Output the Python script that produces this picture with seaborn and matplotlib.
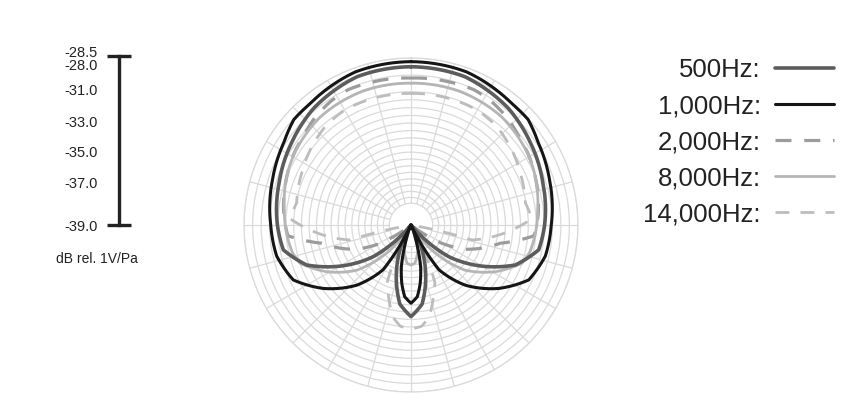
import numpy as np
import matplotlib
matplotlib.use("Agg")
import matplotlib.pyplot as plt
import seaborn as sns
from matplotlib.transforms import ScaledTranslation

# Polar response, one half only (0 deg = front), mirrored for the other side.
# Angles in degrees, levels in dB rel. 1V/Pa (centre of the plot = -39 dB)
ang_500 = [0, 20, 40, 55, 72, 90, 101, 111, 120, 130, 136, 140, 150, 158, 166, 172, 180]
db_500 = [-29.05, -29.08, -29.45, -29.87, -30.29, -30.60, -30.82, -31.98, -33.82, -35.90,
          -37.70, -39.0, -38.48, -36.90, -35.22, -33.98, -33.24]

ang_1000 = [0, 20, 40, 48, 57, 72, 90, 103, 115, 126, 138, 148, 151, 153, 155,
            161, 164, 167, 171, 175, 180]
db_1000 = [-28.73, -28.76, -29.08, -29.09, -29.47, -29.84, -30.18, -30.33, -30.83, -32.21,
           -33.91, -35.68, -37.19, -38.37, -39.0, -38.22, -37.36, -36.31, -35.29, -34.47, -34.08]

ang_2000 = [0, 15, 25, 33, 43, 51, 59, 70, 85, 95, 101.6, 114, 120.6, 125, 128]
db_2000 = [-29.76, -29.69, -29.62, -29.73, -29.98, -30.24, -30.39, -30.65, -30.97, -31.23,
           -33.28, -35.26, -36.73, -38.16, -39.0]

ang_8000 = [0, 20, 40, 58, 66, 83, 95, 103, 109, 119, 130, 139, 145, 148, 160, 165, 174, 180]
db_8000 = [-30.08, -30.05, -30.13, -30.39, -30.55, -30.97, -31.18, -31.34, -31.62, -32.94,
           -34.59, -36.65, -38.16, -39.0, -38.48, -37.37, -36.59, -36.48]

ang_14000 = [0, 30, 41, 53, 65, 79, 87, 96.5, 103.8, 102.4, 101.6, 100,
             150, 157.5, 160.7, 169, 174, 180]
db_14000 = [-30.73, -30.66, -30.79, -31.09, -31.40, -31.68, -31.39, -33.44, -35.05, -36.57,
            -37.44, -39.0, -39.0, -35.06, -34.64, -33.09, -32.60, -32.46]

freq_labels = ["500Hz:", "1,000Hz:", "2,000Hz:", "8,000Hz:", "14,000Hz:"]
angles = [ang_500, ang_1000, ang_2000, ang_8000, ang_14000]
levels = [db_500, db_1000, db_2000, db_8000, db_14000]

# scale bar on the left (labels and where they sit along the bar, 0 = bottom)
scale_labels = ["-28.5", "-28.0", "-31.0", "-33.0", "-35.0", "-37.0", "-39.0"]
scale_pos = [1.0, 0.947, 0.799, 0.615, 0.432, 0.249, 0.0]
r_min, r_max = -39.0, -28.5

# line styles per frequency
colors = ["#5c5c5c", "#151515", "#9c9c9c", "#b5b5b5", "#bdbdbd"]
widths = [2.6, 2.2, 2.3, 2.0, 2.0]
dashes = [None, None, (5, 4), None, (5, 4)]
zorders = [4, 5, 2, 3, 2]

sns.set_theme(style="white")
plt.rcParams["font.family"] = ["Liberation Sans", "DejaVu Sans"]
txt_color = "#222222"
grid_color = "#dadada"

fig = plt.figure(figsize=(8.58, 4.08), dpi=100)
W, H = 858, 408

# polar chart
ax = fig.add_axes([244 / W, 1 - 392 / H, 334 / W, 334 / H], projection="polar")
ax.set_theta_zero_location("N")
ax.set_theta_direction(-1)

for lab, a, d, c, lw, ds, z in zip(freq_labels, angles, levels, colors, widths, dashes, zorders):
    a = np.asarray(a, float)
    d = np.asarray(d, float)
    # mirror: left half runs on from 180 to 360 deg so no segment wraps around
    th = np.deg2rad(np.concatenate([a, 360 - a[::-1]]))
    rr = np.concatenate([d, d[::-1]])
    sns.lineplot(x=th, y=rr, sort=False, estimator=None, color=c, lw=lw,
                 label=lab, ax=ax, zorder=z)
    line = ax.lines[-1]
    line.set_solid_capstyle("round")
    # draw segments as curves in polar space rather than straight chords
    line.get_path()._interpolation_steps = 40
    if ds is not None:
        line.set_dashes(ds)

ax.set_xlabel("")
ax.set_ylabel("")
ax.set_ylim(r_min, r_max)

# grid: rings between the inner hole and the rim, spokes every 15 deg
hole = r_min + 0.13 * (r_max - r_min)
t = np.linspace(0, 1, 21)
rings = hole + (r_max - hole) * (0.8 * t + 0.2 * t ** 2)
ax.set_yticks(rings)
ax.set_yticklabels([])
ax.set_xticks([])
ax.yaxis.grid(True, color=grid_color, lw=0.9)
ax.vlines(np.deg2rad(np.arange(0, 360, 15)), hole, r_max, color=grid_color, lw=0.9, zorder=1)
ax.spines["polar"].set_color(grid_color)
ax.spines["polar"].set_linewidth(0.9)

leg = ax.legend(loc="upper right", bbox_to_anchor=(834 / W, 1 - 58 / H),
                bbox_transform=fig.transFigure, markerfirst=False, frameon=False,
                fontsize=18.5, handlelength=2.3, handletextpad=0.55, labelspacing=0.47,
                borderpad=0, borderaxespad=0)
for tx in leg.get_texts():
    tx.set_color(txt_color)

# dB scale bar
sc = fig.add_axes([107 / W, 1 - 225 / H, 24 / W, 169 / H])
sc.set_xlim(-1, 1)
sc.set_ylim(0, 1)
sc.patch.set_visible(False)
for s in ["top", "right", "bottom"]:
    sc.spines[s].set_visible(False)
sc.spines["left"].set_position(("data", 0))
sc.spines["left"].set_linewidth(2.4)
sc.spines["left"].set_color(txt_color)
sc.set_xticks([])
sc.set_yticks(scale_pos)
sc.set_yticklabels(scale_labels)
sc.tick_params(axis="y", direction="out", length=8.6, width=2.4, pad=7,
               labelsize=10.5, color=txt_color, labelcolor=txt_color)
sc.hlines([0, 1], -1, 1, color=txt_color, lw=2.4, clip_on=False)
top_lab = sc.get_yticklabels()[0]
top_lab.set_transform(top_lab.get_transform() + ScaledTranslation(0, 3.5 / 72, fig.dpi_scale_trans))

fig.text(97 / W, 1 - 259 / H, "dB rel. 1V/Pa", ha="center", va="center",
         fontsize=10, color=txt_color)

fig.savefig("out.png", dpi=100, facecolor="white")
